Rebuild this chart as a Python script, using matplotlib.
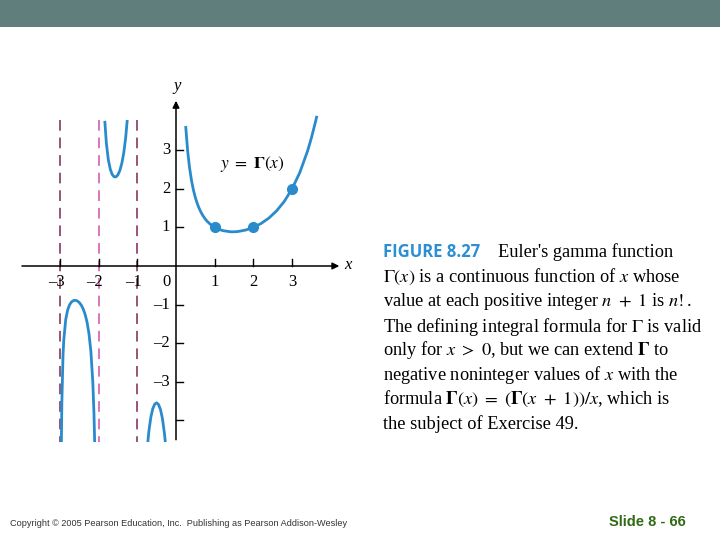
import matplotlib
matplotlib.use("Agg")
import matplotlib.pyplot as plt
from matplotlib.patches import Rectangle

plt.rcParams['mathtext.fontset'] = 'stix'

# ---- data (Gamma function branches) ----
x_pos = [0.25, 0.3, 0.35, 0.4, 0.45, 0.5, 0.55, 0.6, 0.65, 0.7, 0.75, 0.8, 0.9, 1.0,
         1.2, 1.4, 1.5, 1.6, 1.8, 2.0, 2.2, 2.4, 2.6, 2.8, 3.0, 3.2, 3.4, 3.5, 3.6, 3.64]
y_pos = [3.626, 2.992, 2.546, 2.218, 1.968, 1.7725, 1.616, 1.489, 1.385, 1.298, 1.2254,
         1.164, 1.069, 1.0, 0.9182, 0.8873, 0.8862, 0.8935, 0.9314, 1.0, 1.1018, 1.2422,
         1.4296, 1.6765, 2.0, 2.424, 2.981, 3.323, 3.717, 3.89]

x_b1 = [-0.75, -0.72, -0.7, -0.65, -0.6, -0.55, -0.5, -0.45, -0.4, -0.35, -0.3, -0.28, -0.26]
y_b1 = [-4.834, -4.477, -4.274, -3.917, -3.697, -3.578, -3.545, -3.591, -3.722, -3.957,
        -4.327, -4.527, -4.765]

x_b2 = [-1.84, -1.8, -1.75, -1.7, -1.65, -1.6, -1.55, -1.5, -1.45, -1.4, -1.35, -1.3, -1.26]
y_b2 = [3.76, 3.188, 2.762, 2.514, 2.374, 2.311, 2.309, 2.363, 2.477, 2.659, 2.931, 3.328, 3.782]

x_b3 = [-2.965, -2.96, -2.95, -2.92, -2.9, -2.85, -2.8, -2.75, -2.7, -2.65, -2.6, -2.55,
        -2.5, -2.45, -2.4, -2.35, -2.3, -2.25, -2.2, -2.15, -2.12, -2.1]
y_b3 = [-4.985, -4.392, -3.563, -2.326, -1.918, -1.388, -1.139, -1.0045, -0.931, -0.896,
        -0.889, -0.905, -0.945, -1.011, -1.108, -1.247, -1.447, -1.743, -2.205, -3.0,
        -3.811, -4.627]

pts_x = [1, 2, 3]
pts_y = [1, 1, 2]

asymptotes = [-3, -2, -1]
asym_colors = ['#7a2752', '#d052a6', '#7a2752']

x_ticks = [-3, -2, -1, 1, 2, 3]
x_tick_labels = ['\u20133', '\u20132', '\u20131', '1', '2', '3']
y_ticks = [3, 2, 1, -1, -2, -3, -4]
y_tick_labels = ['3', '2', '1', '\u20131', '\u20132', '\u20133', '']

caption_lines = [
    r"Euler's gamma function",
    r"$\Gamma(x)$ is a continuous function of $x$ whose",
    r"value at each positive integer $n\ +\ 1$ is $n!$.",
    r"The defining integral formula for $\Gamma$ is valid",
    r"only for $x\ >\ 0$, but we can extend $\mathbf{\Gamma}$ to",
    r"negative noninteger values of $x$ with the",
    r"formula $\mathbf{\Gamma}(x)\ =\ (\mathbf{\Gamma}(x\ +\ 1))/x$, which is",
    r"the subject of Exercise 49.",
]

W, H = 720, 540
fig = plt.figure(figsize=(7.2, 5.4), dpi=100)
fig.patch.set_facecolor('white')

# header band
fig.patches.append(Rectangle((0, 1 - 27 / H), 1, 27 / H, transform=fig.transFigure,
                             facecolor='#607f7c', edgecolor='none', zorder=0))

# plot axes positioned in pixels
x0px, sx = 176.0, 38.7
y0px, sy = 266.0, 38.6
xl, xr = -4.0, 4.3
yb, yt = -4.55, 4.3
left = (x0px + xl * sx) / W
right = (x0px + xr * sx) / W
top = 1 - (y0px - yt * sy) / H
bottom = 1 - (y0px - yb * sy) / H
ax = fig.add_axes([left, bottom, right - left, top - bottom])
ax.set_xlim(xl, xr)
ax.set_ylim(yb, yt)
ax.axis('off')

blue = '#2a8bcc'
for xs, ys in [(x_pos, y_pos), (x_b1, y_b1), (x_b2, y_b2), (x_b3, y_b3)]:
    ax.plot(xs, ys, color=blue, lw=2.0, solid_capstyle='butt', zorder=3)
ax.plot(pts_x, pts_y, 'o', color=blue, ms=7, zorder=4)

for a, c in zip(asymptotes, asym_colors):
    ax.plot([a, a], [3.77, yb], color=c, lw=1.1, dashes=(7, 4.5), zorder=2)

# axes with arrows
ax.annotate('', xy=(4.22, 0), xytext=(-3.98, 0),
            arrowprops=dict(arrowstyle='-|>', color='black', lw=1.1,
                            mutation_scale=10, shrinkA=0, shrinkB=0))
ax.annotate('', xy=(0, 4.28), xytext=(0, -4.5),
            arrowprops=dict(arrowstyle='-|>', color='black', lw=1.1,
                            mutation_scale=10, shrinkA=0, shrinkB=0))

serif = 'Liberation Serif'
for xt, lab in zip(x_ticks, x_tick_labels):
    ax.plot([xt, xt], [0, 0.19], color='black', lw=1.0)
    ax.text(xt - (0.1 if xt < 0 else 0), -0.2, lab, ha='center', va='top',
            fontsize=12, family=serif)
ax.text(-0.25, -0.2, '0', ha='center', va='top', fontsize=12, family=serif)
for yt_, lab in zip(y_ticks, y_tick_labels):
    ax.plot([0, 0.19], [yt_, yt_], color='black', lw=1.0)
    if lab:
        ax.text(-0.15, yt_, lab, ha='right', va='center', fontsize=12, family=serif)

ax.text(0.02, 4.45, 'y', ha='center', va='bottom', fontsize=12, family=serif,
        style='italic', clip_on=False)
ax.text(4.45, 0.02, 'x', ha='center', va='center', fontsize=12, family=serif,
        style='italic', clip_on=False)
ax.text(1.97, 2.64, r'$y\ =\ \mathbf{\Gamma}(x)$', ha='center', va='center', fontsize=12.5)

# caption text
line_y = [251.7, 277.3, 301.7, 326.7, 350.0, 375.0, 399.3, 424.3]
fig.text(383 / W, 1 - line_y[0] / H, 'FIGURE 8.27', ha='left', va='center',
         fontsize=12, fontweight='bold', color='#2b8fd2', family='Open Sans')
fig.text(498 / W, 1 - line_y[0] / H, caption_lines[0], ha='left', va='center',
         fontsize=13.2, family=serif)
for ly, txt in zip(line_y[1:], caption_lines[1:]):
    fig.text(383 / W, 1 - ly / H, txt, ha='left', va='center', fontsize=13.2, family=serif)

# footer
fig.text(10 / W, 1 - 524 / H,
         'Copyright \u00a9 2005 Pearson Education, Inc.  Publishing as Pearson Addison-Wesley',
         ha='left', va='center', fontsize=6.6, color='#333333', family='Liberation Sans')
fig.text(647 / W, 1 - 522 / H, 'Slide 8 - 66', ha='center', va='center', fontsize=10.5,
         fontweight='bold', color='#2e6b14', family='Liberation Sans')

fig.savefig('out.png', dpi=100)
